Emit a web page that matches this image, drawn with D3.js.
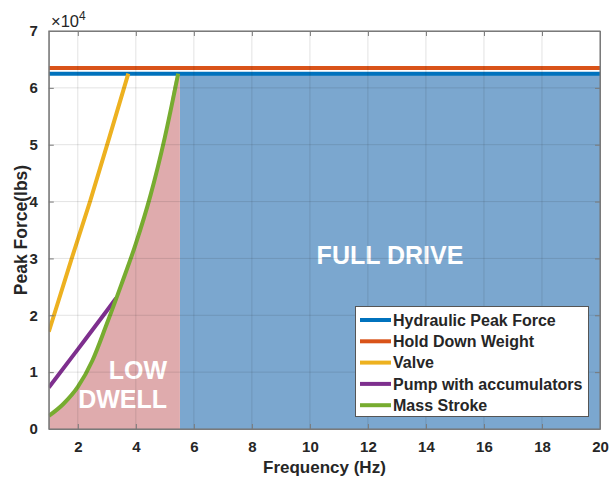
<!DOCTYPE html>
<html>
<head>
<meta charset="utf-8">
<script src="https://cdn.jsdelivr.net/npm/d3@7"></script>
<style>
  html, body { margin: 0; padding: 0; background: #fff; }
  svg { display: block; font-family: "Liberation Sans", Arial, sans-serif; }
</style>
</head>
<body>
<svg id="chart" width="610" height="479"></svg>
<script>
// ---- data ----
const seriesNames = ["Hydraulic Peak Force", "Hold Down Weight", "Valve", "Pump with accumulators", "Mass Stroke"];
const seriesColors = ["#0072BD", "#D95319", "#EDB120", "#7E2F8E", "#77AC30"];
const hydraulicPeakForce = 62500;
const holdDownWeight = 63500;
const valveFreq = [1, 1.79, 2.42, 3.1, 3.74];
const valveForce = [17100, 30000, 40000, 51500, 62500];
const pumpFreq = [1, 2, 2.25, 3, 3.32];
const pumpForce = [7300, 14000, 15700, 20800, 23000];
const massFreq = [1, 1.5, 2, 2.5, 3, 3.5, 4, 4.5, 5, 5.46];
const massForce = [2300, 4400, 7400, 12000, 18500, 25400, 32600, 41000, 51300, 62500];
const lowDwellEnd = 5.52;
const xDomain = [1, 20];
const yDomain = [0, 70000];
const xTicks = [2, 4, 6, 8, 10, 12, 14, 16, 18, 20];
const yTicks = [0, 10000, 20000, 30000, 40000, 50000, 60000, 70000];

// ---- layout ----
const L = 48.8, R = 600, T = 31, B = 429;
const svg = d3.select("#chart");
const x = d3.scaleLinear().domain(xDomain).range([L, R]);
const y = d3.scaleLinear().domain(yDomain).range([B, T]);
const txt = "#262626";

const pts = (fx, fy) => fx.map((f, i) => [f, fy[i]]);
const valve = pts(valveFreq, valveForce);
const pump = pts(pumpFreq, pumpForce);
const mass = pts(massFreq, massForce);

svg.append("clipPath").attr("id", "clip").append("rect")
  .attr("x", L).attr("y", T).attr("width", R - L).attr("height", B - T);
const plot = svg.append("g").attr("clip-path", "url(#clip)");

// fills
const area = d3.area().x(d => x(d[0])).y0(y(0)).y1(d => y(d[1])).curve(d3.curveMonotoneX);
plot.append("path")
  .datum([[lowDwellEnd, hydraulicPeakForce], [xDomain[1], hydraulicPeakForce]])
  .attr("d", d3.area().x(d => x(d[0])).y0(y(0)).y1(d => y(d[1])))
  .attr("fill", "#7BA7CF");
plot.append("path")
  .datum(mass.concat([[lowDwellEnd, hydraulicPeakForce]]))
  .attr("d", area)
  .attr("fill", "#DFABAD");

// grid
const grid = svg.append("g").attr("stroke", "rgba(38,38,38,0.13)").attr("stroke-width", 1);
xTicks.forEach(t => grid.append("line").attr("x1", x(t)).attr("x2", x(t)).attr("y1", T).attr("y2", B));
yTicks.forEach(t => grid.append("line").attr("x1", L).attr("x2", R).attr("y1", y(t)).attr("y2", y(t)));

// lines
const line = d3.line().x(d => x(d[0])).y(d => y(d[1]));
const smooth = d3.line().x(d => x(d[0])).y(d => y(d[1])).curve(d3.curveMonotoneX);
const lw = 4;
plot.append("path").datum([[xDomain[0], hydraulicPeakForce], [xDomain[1], hydraulicPeakForce]])
  .attr("d", line).attr("stroke", seriesColors[0]).attr("stroke-width", lw).attr("fill", "none");
plot.append("path").datum([[xDomain[0], holdDownWeight], [xDomain[1], holdDownWeight]])
  .attr("d", line).attr("stroke", seriesColors[1]).attr("stroke-width", lw).attr("fill", "none");
plot.append("path").datum(valve)
  .attr("d", line).attr("stroke", seriesColors[2]).attr("stroke-width", lw).attr("fill", "none");
plot.append("path").datum(pump)
  .attr("d", line).attr("stroke", seriesColors[3]).attr("stroke-width", lw).attr("fill", "none");
plot.append("path").datum(mass)
  .attr("d", smooth).attr("stroke", seriesColors[4]).attr("stroke-width", lw).attr("fill", "none");

// region labels
plot.append("text").attr("x", 390).attr("y", 264).attr("text-anchor", "middle")
  .attr("fill", "#fff").attr("font-weight", "bold").attr("font-size", 25).text("FULL DRIVE");
plot.append("text").attr("x", 167).attr("y", 379).attr("text-anchor", "end")
  .attr("fill", "#fff").attr("font-weight", "bold").attr("font-size", 25).text("LOW");
plot.append("text").attr("x", 167).attr("y", 408).attr("text-anchor", "end")
  .attr("fill", "#fff").attr("font-weight", "bold").attr("font-size", 25).text("DWELL");

// axes (box with inward ticks)
const axisColor = "#7a7a7a";
const xb = svg.append("g").attr("transform", `translate(0,${B})`)
  .call(d3.axisBottom(x).tickValues(xTicks).tickSizeInner(-5).tickSizeOuter(0).tickPadding(12));
const xt = svg.append("g").attr("transform", `translate(0,${T})`)
  .call(d3.axisTop(x).tickValues(xTicks).tickSizeInner(-5).tickSizeOuter(0).tickFormat(""));
const yl = svg.append("g").attr("transform", `translate(${L},0)`)
  .call(d3.axisLeft(y).tickValues(yTicks).tickSizeInner(-5).tickSizeOuter(0).tickPadding(11).tickFormat(d => d / 10000));
const yr = svg.append("g").attr("transform", `translate(${R},0)`)
  .call(d3.axisRight(y).tickValues(yTicks).tickSizeInner(-5).tickSizeOuter(0).tickFormat(""));
[xb, xt, yl, yr].forEach(g => {
  g.select(".domain").attr("stroke", axisColor);
  g.selectAll(".tick line").attr("stroke", axisColor);
  g.selectAll(".tick text").attr("fill", txt).attr("font-size", 15).attr("font-weight", "bold")
    .attr("font-family", "Liberation Sans, Arial, sans-serif");
});
// full box
svg.append("rect").attr("x", L).attr("y", T).attr("width", R - L).attr("height", B - T)
  .attr("fill", "none").attr("stroke", axisColor).attr("stroke-width", 1);

// exponent
const ex = svg.append("text").attr("x", 51).attr("y", 27).attr("fill", txt).attr("font-size", 16.5);
ex.append("tspan").text("\u00d710");
ex.append("tspan").attr("dy", -7.5).attr("font-size", 12).text("4");

// axis titles
svg.append("text").attr("x", (L + R) / 2).attr("y", 473).attr("text-anchor", "middle")
  .attr("fill", txt).attr("font-weight", "bold").attr("font-size", 17).text("Frequency (Hz)");
svg.append("text").attr("transform", `translate(27,${(T + B) / 2}) rotate(-90)`).attr("text-anchor", "middle")
  .attr("fill", txt).attr("font-weight", "bold").attr("font-size", 17.5).text("Peak Force(lbs)");

// legend
const lg = svg.append("g");
lg.append("rect").attr("x", 355.5).attr("y", 306.5).attr("width", 233).attr("height", 110)
  .attr("fill", "#fff").attr("stroke", "#555").attr("stroke-width", 1);
seriesNames.forEach((name, i) => {
  const cy = 320 + i * 21.3;
  lg.append("line").attr("x1", 360).attr("x2", 391).attr("y1", cy).attr("y2", cy)
    .attr("stroke", seriesColors[i]).attr("stroke-width", lw);
  lg.append("text").attr("x", 393).attr("y", cy).attr("dy", "0.36em")
    .attr("fill", txt).attr("font-weight", "bold").attr("font-size", 16).text(name);
});
</script>
</body>
</html>
